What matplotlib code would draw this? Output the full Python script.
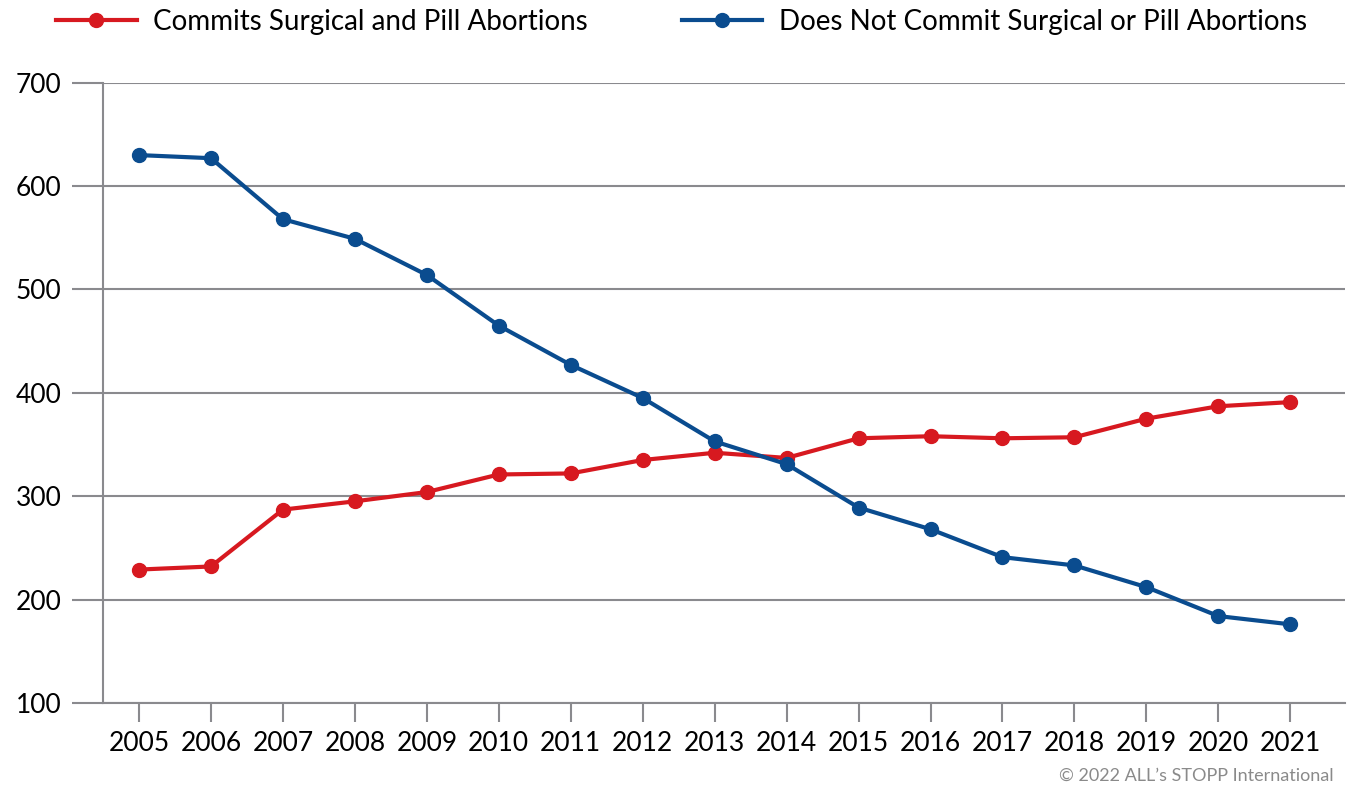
import matplotlib.pyplot as plt

years = list(range(2005, 2022))
commits = [229, 232, 287, 295, 304, 321, 322, 335, 342, 337, 356, 358, 356, 357, 375, 387, 391]
not_commits = [630, 627, 568, 549, 514, 465, 427, 395, 353, 331, 289, 268, 241, 233, 212, 184, 176]
y_ticks = [100, 200, 300, 400, 500, 600, 700]

RED = '#d71920'
BLUE = '#0a4c8f'
GRID = '#8a8a8e'


def main():
    plt.rcParams['font.family'] = ['Lato', 'DejaVu Sans']
    fig = plt.figure(figsize=(13.47, 7.88), dpi=100)
    ax = fig.add_axes([0.0765, 0.108, 0.922, 0.787])

    ax.plot(years, commits, color=RED, lw=3, marker='o', ms=10,
            label='Commits Surgical and Pill Abortions', zorder=3)
    ax.plot(years, not_commits, color=BLUE, lw=3, marker='o', ms=10,
            label='Does Not Commit Surgical or Pill Abortions', zorder=3)

    ax.set_xlim(2004.5, 2021.76)
    ax.set_ylim(100, 700)
    ax.set_yticks(y_ticks)
    ax.set_xticks(years)
    ax.grid(axis='y', color=GRID, lw=1.5)
    ax.set_axisbelow(True)

    for s in ['top', 'right']:
        ax.spines[s].set_visible(False)
    ax.spines['left'].set_color(GRID)
    ax.spines['left'].set_linewidth(1.5)
    ax.spines['bottom'].set_color(GRID)
    ax.spines['bottom'].set_linewidth(1.5)

    ax.tick_params(axis='y', length=22, width=1.5, color=GRID, labelsize=19, pad=8)
    ax.tick_params(axis='x', length=14, width=1.5, color=GRID, labelsize=19, pad=6)

    fig.legend(loc='center left', bbox_to_anchor=(0.0416, 0.972), ncol=2, frameon=False,
               fontsize=20, handlelength=2.9, handletextpad=0.58, columnspacing=3.4,
               borderpad=0, borderaxespad=0)

    fig.text(0.99, 0.005, '\u00a9 2022 ALL\u2019s STOPP International', ha='right', va='bottom',
             fontsize=13, color='#8a8a8a')

    fig.savefig('out.png', dpi=100)


if __name__ == "__main__":
    main()
